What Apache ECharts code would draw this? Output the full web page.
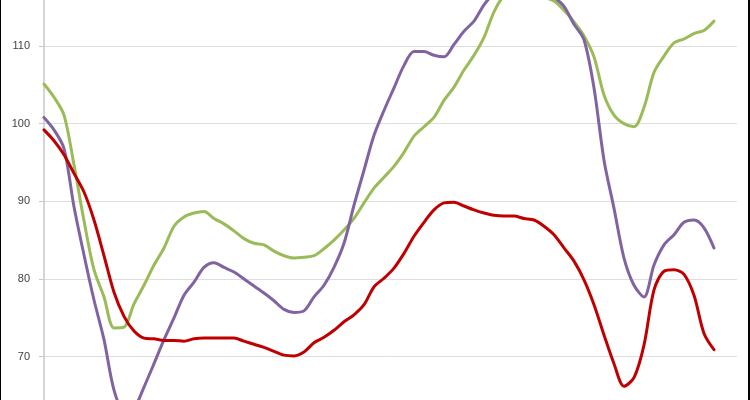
<!DOCTYPE html>
<html>
<head>
<meta charset="utf-8">
<script src="https://cdn.jsdelivr.net/npm/echarts@6/dist/echarts.min.js"></script>
<style>
html,body{margin:0;padding:0;background:#fff;}
#frame{position:relative;width:750px;height:400px;overflow:hidden;background:#fff;}
#chart{position:absolute;left:0;top:-40px;width:750px;height:480px;}
#bl{position:absolute;left:0;top:0;width:1px;height:400px;background:#000;z-index:5;}
#br{position:absolute;left:748px;top:0;width:2px;height:400px;background:#000;z-index:5;}
</style>
</head>
<body>
<div id="frame"><div id="chart"></div><div id="bl"></div><div id="br"></div></div>
<script>
// Period index (one step per observation)
const periods = Array.from({length: 68}, (_, i) => i);

const redSeries = [99.2,97.8,96.0,93.6,91.2,87.6,83.0,78.3,75.2,73.3,
72.4,72.3,72.1,72.1,72.0,72.3,72.4,72.4,72.4,72.4,
72.0,71.6,71.2,70.7,70.2,70.1,70.6,71.8,72.5,73.4,
74.5,75.4,76.7,79.0,80.1,81.4,83.3,85.5,87.3,88.9,
89.8,89.9,89.4,88.9,88.5,88.2,88.1,88.1,87.8,87.6,
86.8,85.7,84.0,82.3,79.9,76.7,72.8,69.1,66.2,67.3,
71.5,78.6,81.0,81.2,80.6,77.9,73.0,70.9];

const greenSeries = [105.1,103.4,101.1,94.7,87.5,81.2,77.7,73.7,73.8,76.8,
79.2,81.8,84.0,86.8,88.0,88.5,88.7,87.8,87.1,86.2,
85.2,84.6,84.4,83.6,83.0,82.7,82.8,83.0,83.9,85.0,
86.3,87.8,89.8,91.7,93.1,94.5,96.3,98.4,99.6,100.8,
103.0,104.7,106.9,108.8,111.1,114.4,116.5,117.5,117.5,117.0,
116.3,115.8,114.6,113.1,111.3,108.6,103.7,101.1,100.0,99.6,
102.1,106.6,108.7,110.4,110.9,111.6,112.0,113.2];

const purpleSeries = [100.8,99.2,96.8,89.3,83.1,77.3,72.2,65.7,63.1,63.4,
66.1,69.1,72.2,75.0,77.9,79.6,81.5,82.1,81.5,80.9,
80.0,79.1,78.2,77.2,76.1,75.7,75.9,77.7,79.2,81.5,
84.6,89.5,94.0,98.5,101.7,104.6,107.5,109.3,109.3,108.8,
108.6,110.2,111.9,113.2,115.3,116.8,118.0,118.5,118.5,118.0,
117.2,116.3,115.1,112.8,110.8,104.6,95.3,89.1,82.7,79.2,
77.7,81.8,84.4,85.7,87.3,87.6,86.6,84.0];

const yTicks = [60, 70, 80, 90, 100, 110, 120];

const toPairs = arr => arr.map((v, i) => [periods[i], v]);

const chart = echarts.init(document.getElementById('chart'), null, {renderer: 'canvas'});
const lineStyleBase = {width: 3, cap: 'round', join: 'round'};
chart.setOption({
  animation: false,
  backgroundColor: '#ffffff',
  grid: {left: 44, right: 13, top: 8.3, bottom: 5.6, containLabel: false},
  xAxis: {type: 'value', min: 0, max: 69.3, show: false},
  yAxis: {
    type: 'value', min: yTicks[0], max: yTicks[yTicks.length - 1], interval: 10,
    axisLine: {show: true, lineStyle: {color: '#C8C8C8', width: 1.5}},
    axisTick: {show: true, length: 5, lineStyle: {color: '#C8C8C8', width: 1}},
    axisLabel: {color: '#404040', fontSize: 11, fontFamily: 'Liberation Sans, Arial, sans-serif', margin: 14},
    splitLine: {show: true, lineStyle: {color: '#DEDEDE', width: 1}}
  },
  series: [
    {type: 'line', data: toPairs(greenSeries), showSymbol: false, smooth: 0.3,
     lineStyle: Object.assign({color: '#9BBB59'}, lineStyleBase), itemStyle: {color: '#9BBB59'}, z: 3},
    {type: 'line', data: toPairs(purpleSeries), showSymbol: false, smooth: 0.3,
     lineStyle: Object.assign({color: '#8064A2'}, lineStyleBase), itemStyle: {color: '#8064A2'}, z: 4},
    {type: 'line', data: toPairs(redSeries), showSymbol: false, smooth: 0.3,
     lineStyle: Object.assign({color: '#C00000'}, lineStyleBase), itemStyle: {color: '#C00000'}, z: 5}
  ]
});
</script>
</body>
</html>
